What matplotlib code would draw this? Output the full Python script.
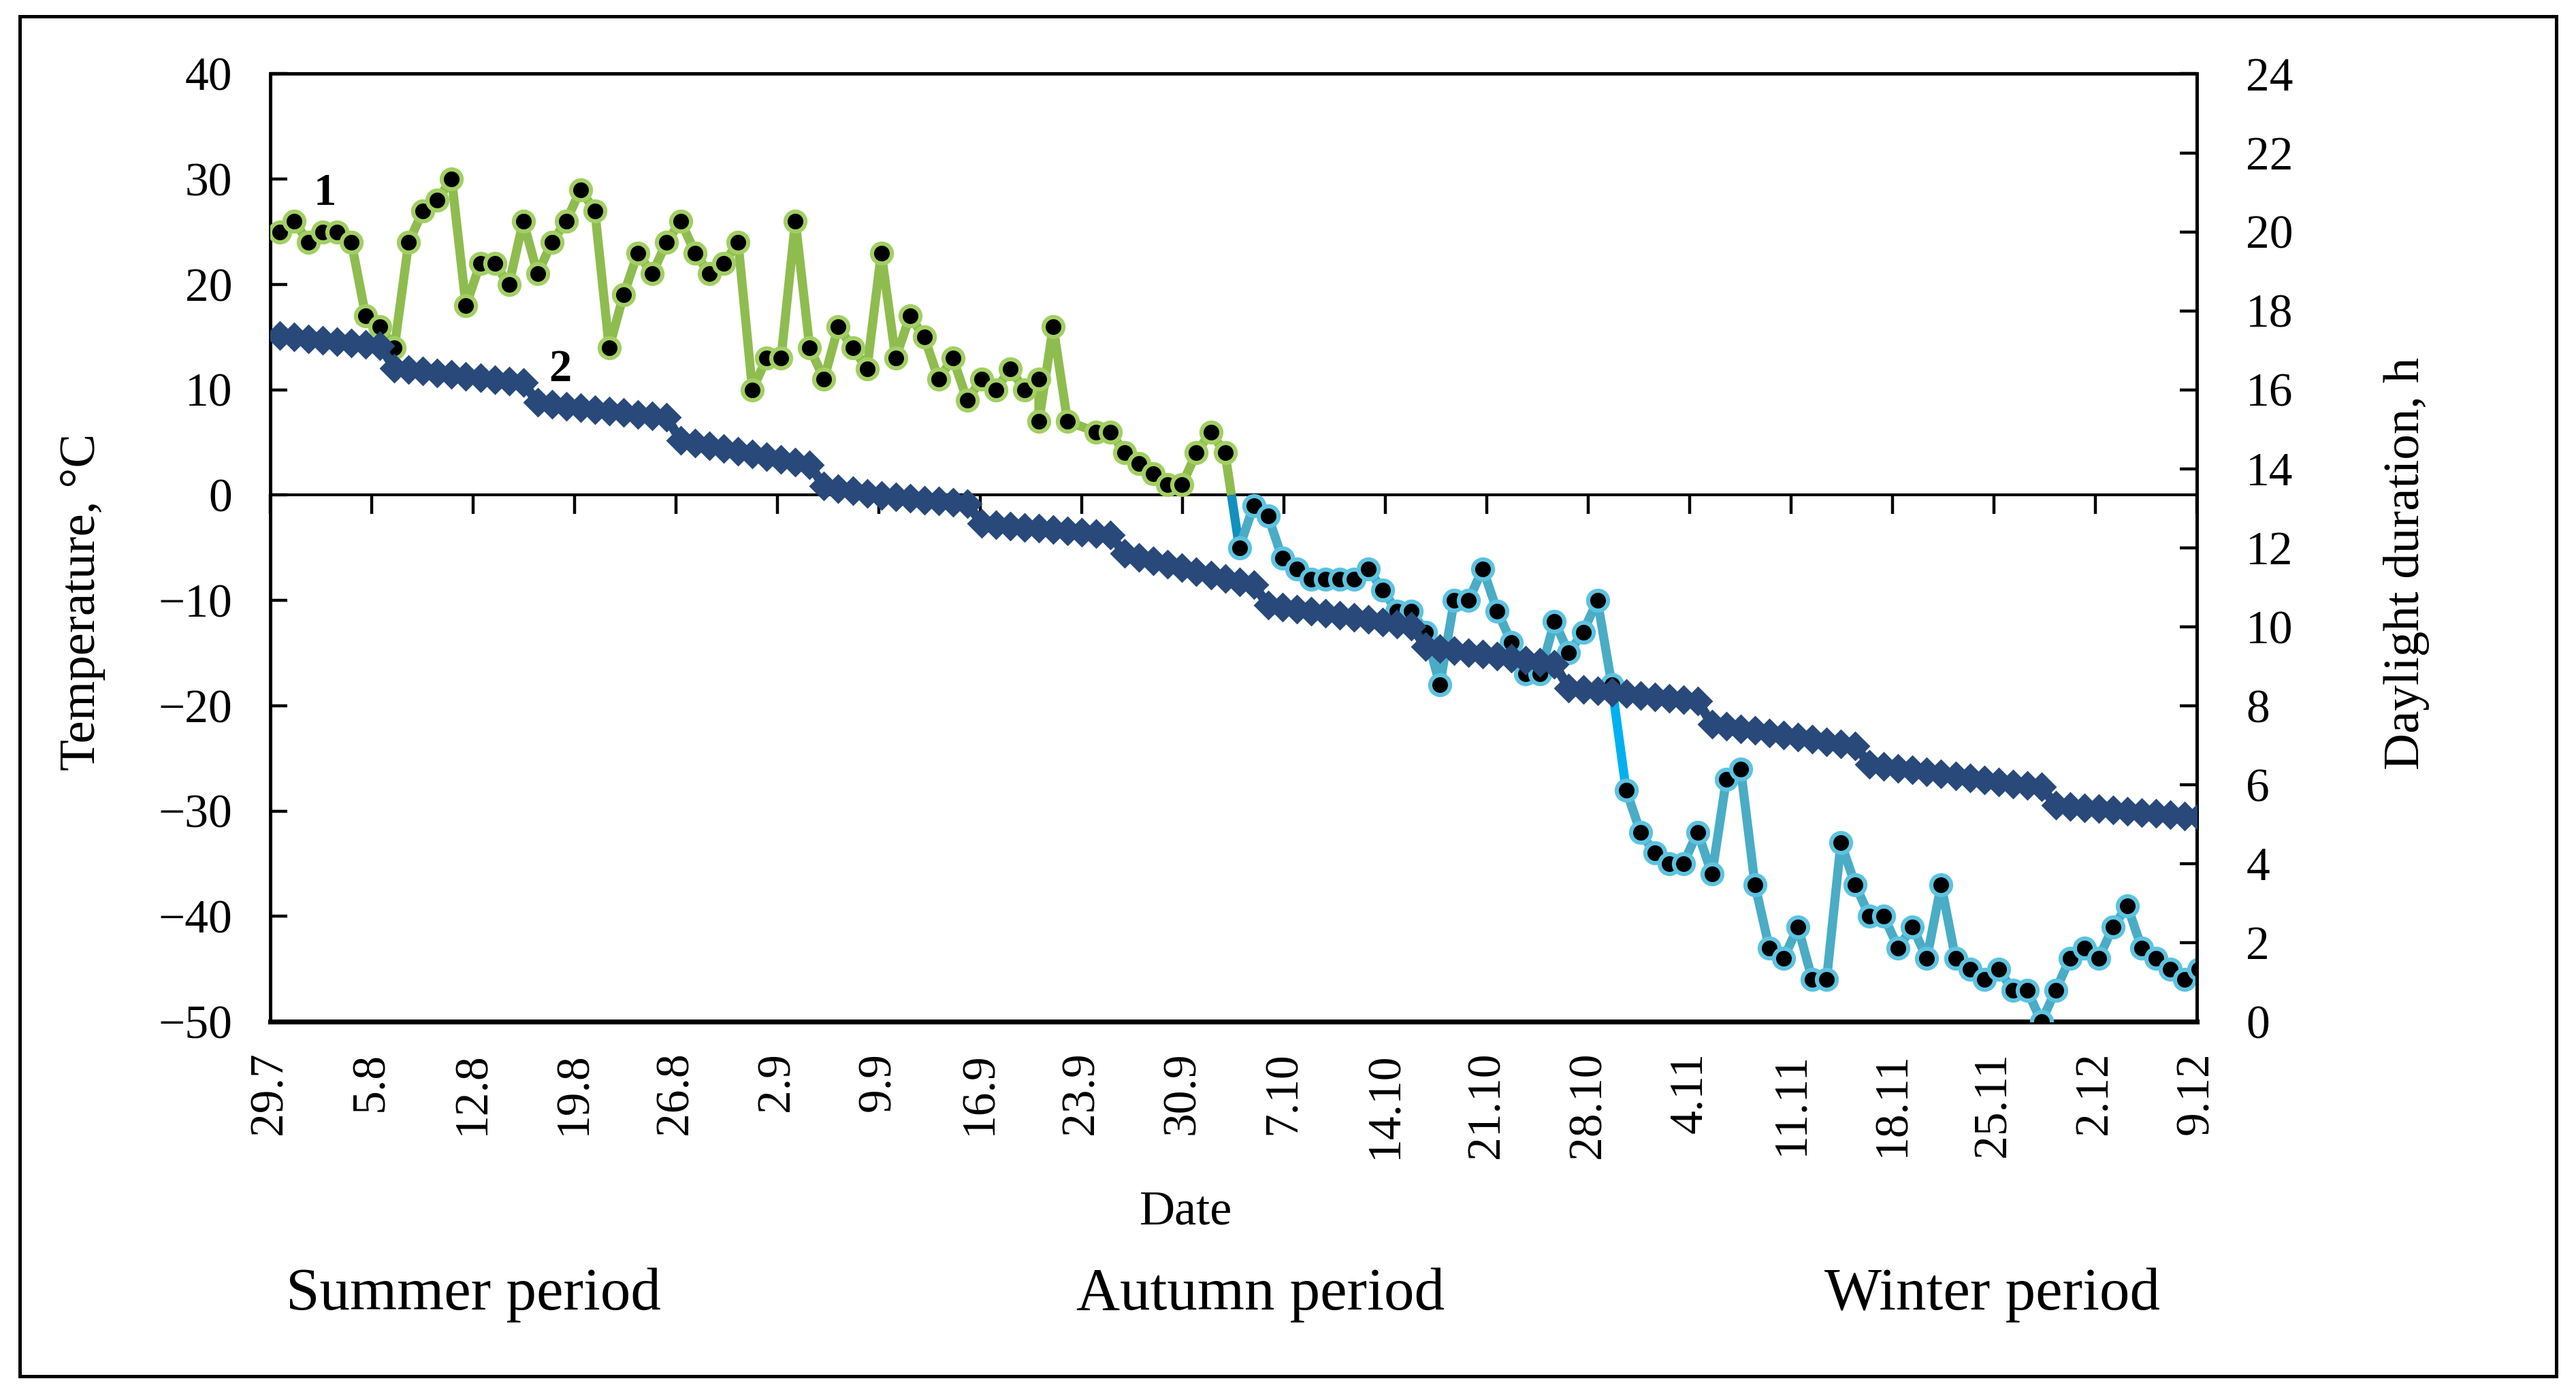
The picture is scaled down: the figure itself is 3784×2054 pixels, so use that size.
import numpy as np
import matplotlib
matplotlib.use("Agg")
import matplotlib.pyplot as plt
from matplotlib.patches import Rectangle

plt.rcParams['font.family'] = ['Liberation Serif', 'DejaVu Serif']

# x axis: days counted from 29.7, one label per week
week_days = [0, 7, 14, 21, 28, 35, 42, 49, 56, 63, 70, 77, 84, 91, 98, 105, 112, 119, 126, 133]
date_labels = ["29.7", "5.8", "12.8", "19.8", "26.8", "2.9", "9.9", "16.9", "23.9", "30.9",
               "7.10", "14.10", "21.10", "28.10", "4.11", "11.11", "18.11", "25.11", "2.12", "9.12"]

# series 1: air temperature, °C
temperature = [
    25, 26, 24, 25, 25, 24, 17, 16, 14, 24,
    27, 28, 30, 18, 22, 22, 20, 26, 21, 24,
    26, 29, 27, 14, 19, 23, 21, 24, 26, 23,
    21, 22, 24, 10, 13, 13, 26, 14, 11, 16,
    14, 12, 23, 13, 17, 15, 11, 13, 9, 11,
    10, 12, 10, 11, 7, 16, 7, 6, 6, 4,
    3, 2, 1, 1, 4, 6, 4, -5, -1, -2,
    -6, -7, -8, -8, -8, -8, -7, -9, -11, -11,
    -13, -18, -10, -10, -7, -11, -14, -17, -17, -12,
    -15, -13, -10, -18, -28, -32, -34, -35, -35, -32,
    -36, -27, -26, -37, -43, -44, -41, -46, -46, -33,
    -37, -40, -40, -43, -41, -44, -37, -44, -45, -46,
    -45, -47, -47, -50, -47, -44, -43, -44, -41, -39,
    -43, -44, -45, -46, -45,
]
n_summer = 67   # points in the summer period
n_autumn = 27   # points in the autumn period, the rest is winter

# series 2: daylight duration, h
daylight = [
    17.37, 17.33, 17.29, 17.26, 17.22, 17.19, 17.15, 17.12,
    16.55, 16.51, 16.47, 16.43, 16.39, 16.34, 16.30, 16.26, 16.22, 16.18,
    15.68, 15.63, 15.58, 15.54, 15.50, 15.46, 15.42, 15.38, 15.34, 15.30,
    14.72, 14.65, 14.58, 14.51, 14.44, 14.37, 14.30, 14.23, 14.16, 14.10,
    13.56, 13.50, 13.44, 13.38, 13.33, 13.29, 13.25, 13.21, 13.18, 13.15, 13.12,
    12.62, 12.58, 12.55, 12.52, 12.49, 12.46, 12.43, 12.39, 12.35, 12.32,
    11.85, 11.76, 11.67, 11.58, 11.49, 11.40, 11.31, 11.22, 11.14, 11.06,
    10.55, 10.50, 10.45, 10.40, 10.34, 10.29, 10.23, 10.18, 10.12, 10.07, 10.02,
    9.50, 9.45, 9.40, 9.35, 9.30, 9.25, 9.20, 9.15, 9.10, 9.05,
    8.45, 8.41, 8.37, 8.34, 8.30, 8.26, 8.23, 8.19, 8.15, 8.12,
    7.53, 7.48, 7.42, 7.37, 7.31, 7.26, 7.20, 7.15, 7.09, 7.04, 6.98,
    6.52, 6.47, 6.42, 6.37, 6.32, 6.27, 6.22, 6.17, 6.12, 6.07, 6.02, 5.98, 5.94,
    5.48, 5.45, 5.42, 5.39, 5.36, 5.33, 5.30, 5.27, 5.24, 5.21, 5.18,
]

period_labels = ["Summer period", "Autumn period", "Winter period"]

# measurement positions (one reading was repeated, one day is missing)
gaps = np.ones(len(temperature) - 1)
gaps[53] = 0
gaps[56] = 2
t_x = 0.66 + (133.15 - 0.66) / gaps.sum() * np.concatenate([[0], np.cumsum(gaps)])
d_x = np.linspace(0.66, 133.15, len(daylight))
temp = np.array(temperature, dtype=float)

green = '#8FBC4F'
green_edge = '#A2CF62'
blue = '#4AACC5'
blue_edge = '#5CC3E0'
navy = '#28497A'
lw_t = 4.8

fig = plt.figure(figsize=(18.92, 10.27), dpi=200)
ax = fig.add_axes([0.1049, 0.2692, 0.7479, 0.678])
ax.set_xlim(0, 133)
ax.set_ylim(-50, 40)

s, a = n_summer, n_summer + n_autumn
# connector summer -> autumn, split where it crosses 0
x0, x1, y0, y1 = t_x[s - 1], t_x[s], temp[s - 1], temp[s]
xz = x0 + (x1 - x0) * y0 / (y0 - y1)
ax.plot([x0, xz], [y0, 0], color=green, lw=lw_t, zorder=3, solid_capstyle='butt')
ax.plot([xz, x1], [0, y1], color='#1290BF', lw=lw_t, zorder=3, solid_capstyle='butt')
# connector autumn -> winter
ax.plot(t_x[a - 1:a + 1], temp[a - 1:a + 1], color='#00B0F0', lw=lw_t, zorder=3)

mk = dict(marker='o', markersize=10.5, markerfacecolor='black', markeredgewidth=2.2, zorder=4)
ax.plot(t_x[:s], temp[:s], color=green, lw=lw_t, markeredgecolor=green_edge, **mk)
ax.plot(t_x[s:a], temp[s:a], color=blue, lw=lw_t, markeredgecolor=blue_edge, **mk)
ax.plot(t_x[a:], temp[a:], color=blue, lw=lw_t, markeredgecolor=blue_edge, **mk)

ax.text(3.8, 28.6, "1", fontsize=24, fontweight='bold', ha='center', va='center')
ax.text(20.0, 11.9, "2", fontsize=24, fontweight='bold', ha='center', va='center')

# axis frame: x axis line through 0, box around the plot
for side in ['left', 'top']:
    ax.spines[side].set_linewidth(1.8)
ax.spines['bottom'].set_position(('data', 0))
ax.spines['bottom'].set_linewidth(1.5)
ax.spines['right'].set_visible(False)
ax.set_xticks(week_days)
ax.tick_params(axis='x', direction='out', length=10, width=1.6, labelbottom=False)
ax.set_yticks(np.arange(-50, 41, 10))
ax.tick_params(axis='y', direction='in', length=9, width=1.6, labelsize=25, pad=20)

ax2 = ax.twinx()
ax2.set_ylim(0, 24)
ax2.plot(d_x, daylight, color=navy, lw=5, marker='D', markersize=10,
         markerfacecolor=navy, markeredgecolor=navy, zorder=3)
ax2.set_yticks(np.arange(0, 25, 2))
ax2.tick_params(axis='y', direction='in', length=9, width=1.6, labelsize=25, pad=26)
for side in ['left', 'top', 'bottom']:
    ax2.spines[side].set_visible(False)
ax2.spines['right'].set_linewidth(1.8)

sec = ax.secondary_xaxis('bottom')
sec.set_xticks(week_days, labels=date_labels)
sec.tick_params(axis='x', length=0, pad=16, labelsize=25, labelrotation=90)
sec.spines['bottom'].set_linewidth(2.6)

fig.text(0.032, 0.5696, "Temperature, °C", rotation=90, fontsize=27, ha='center', va='center')
fig.text(0.9342, 0.5969, "Daylight duration, h", rotation=90, fontsize=27, ha='center', va='center')
fig.text(0.4604, 0.1329, "Date", fontsize=26, ha='center', va='center')
for xp, lab in zip([0.1837, 0.4892, 0.7735], period_labels):
    fig.text(xp, 0.074, lab, fontsize=32, ha='center', va='center')

fig.add_artist(Rectangle((0.00766, 0.01558), 0.9847, 0.9727, transform=fig.transFigure,
                         fill=False, lw=1.8, edgecolor='black'))

fig.savefig("out.png", dpi=200)
